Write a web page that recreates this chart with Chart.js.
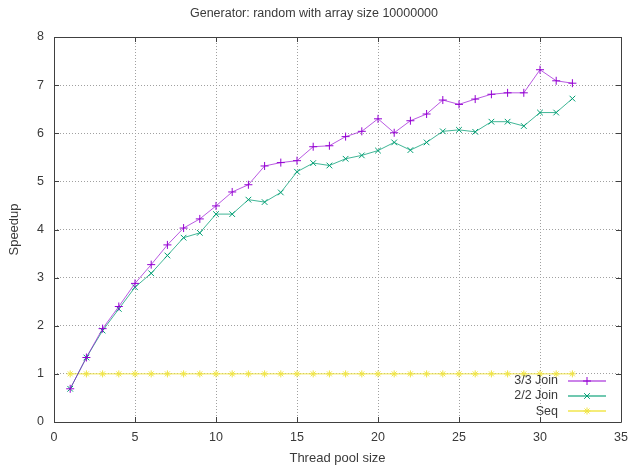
<!DOCTYPE html>
<html>
<head>
<meta charset="utf-8">
<script src="https://cdn.jsdelivr.net/npm/chart.js@4/dist/chart.umd.min.js"></script>
<style>
html,body{margin:0;padding:0;background:#fff;}
#wrap{width:628px;height:467px;}
</style>
</head>
<body>
<div id="wrap"><canvas id="c" width="628" height="467"></canvas></div>
<script>
const threads = [1,2,3,4,5,6,7,8,9,10,11,12,13,14,15,16,17,18,19,20,21,22,23,24,25,26,27,28,29,30,31,32];
const join33 = [0.69,1.34,1.94,2.40,2.88,3.27,3.68,4.03,4.22,4.49,4.78,4.93,5.32,5.39,5.43,5.72,5.74,5.93,6.04,6.30,6.01,6.26,6.40,6.69,6.60,6.71,6.81,6.84,6.84,7.32,7.09,7.04];
const join22 = [0.69,1.34,1.90,2.35,2.80,3.09,3.46,3.83,3.93,4.32,4.32,4.62,4.57,4.77,5.20,5.38,5.33,5.47,5.54,5.64,5.81,5.65,5.81,6.04,6.07,6.03,6.24,6.24,6.15,6.43,6.43,6.72];
const seq = [1,1,1,1,1,1,1,1,1,1,1,1,1,1,1,1,1,1,1,1,1,1,1,1,1,1,1,1,1,1,1,1];
const seriesLabels = ['3/3 Join','2/2 Join','Seq'];
const seriesColors = ['#9400d3','#009e73','#f0e442'];
const seriesLineColors = ['rgba(148,0,211,0.65)','rgba(0,158,115,0.75)','rgba(240,228,66,0.95)'];
const seriesPoints = ['cross','crossRot','star'];
const titleText = 'Generator: random with array size 10000000';
const xTitle = 'Thread pool size';
const yTitle = 'Speedup';

const FONT = 'Liberation Sans, Arial, sans-serif';
const TXT = '#3a3a3a';

function pts(ys){ return threads.map((x,i)=>({x:x,y:ys[i]})); }

const frame = {
  id:'frame',
  afterDatasetsDraw(chart){
    const {ctx, chartArea:a, scales:{x,y}} = chart;
    ctx.save();
    ctx.strokeStyle = '#404040';
    ctx.lineWidth = 1;
    ctx.beginPath();
    ctx.rect(Math.round(a.left)+0.5, Math.round(a.top)+0.5, Math.round(a.right-a.left), Math.round(a.bottom-a.top));
    ctx.stroke();
    const L = 5;
    ctx.beginPath();
    x.ticks.forEach(t=>{
      const px = Math.round(x.getPixelForValue(t.value))+0.5;
      ctx.moveTo(px,a.bottom); ctx.lineTo(px,a.bottom-L);
      ctx.moveTo(px,a.top); ctx.lineTo(px,a.top+L);
    });
    y.ticks.forEach(t=>{
      const py = Math.round(y.getPixelForValue(t.value))+0.5;
      ctx.moveTo(a.left,py); ctx.lineTo(a.left+L,py);
      ctx.moveTo(a.right,py); ctx.lineTo(a.right-L,py);
    });
    ctx.stroke();

    // key (legend) bottom-right inside
    ctx.font = '12.5px ' + FONT;
    ctx.textAlign = 'right';
    ctx.textBaseline = 'middle';
    chart.data.datasets.forEach((ds,i)=>{
      const yy = a.bottom - 41.5 + i*15.3;
      const tx = a.right - 63;
      ctx.fillStyle = TXT;
      ctx.fillText(ds.label, tx, yy);
      const x0 = a.right - 53, x1 = a.right - 15, xm = Math.round((x0+x1)/2);
      ctx.strokeStyle = seriesLineColors[i];
      ctx.lineWidth = 1.5;
      ctx.beginPath();
      ctx.moveTo(x0, Math.round(yy)); ctx.lineTo(x1, Math.round(yy));
      ctx.stroke();
      ctx.strokeStyle = ds.pointBorderColor;
      ctx.lineWidth = 1;
      const r = ds.pointRadius;
      const cy = Math.round(yy);
      ctx.beginPath();
      const ps = ds.pointStyle;
      if(ps==='cross'||ps==='star'){
        ctx.moveTo(xm-r,cy); ctx.lineTo(xm+r,cy);
        ctx.moveTo(xm,cy-r); ctx.lineTo(xm,cy+r);
      }
      if(ps==='crossRot'||ps==='star'){
        const d = r*Math.SQRT1_2;
        ctx.moveTo(xm-d,cy-d); ctx.lineTo(xm+d,cy+d);
        ctx.moveTo(xm-d,cy+d); ctx.lineTo(xm+d,cy-d);
      }
      ctx.stroke();
    });
    ctx.restore();
  }
};

const mkds = (i, ys) => ({
  label: seriesLabels[i],
  data: pts(ys),
  borderColor: seriesLineColors[i],
  backgroundColor: seriesColors[i],
  borderWidth: 1,
  pointStyle: seriesPoints[i],
  pointRadius: i===2 ? 3.5 : 4,
  pointBorderWidth: 1,
  pointBorderColor: seriesColors[i],
  pointHoverRadius: 4,
  tension: 0,
  fill: false
});

new Chart(document.getElementById('c'), {
  type: 'line',
  data: { datasets: [ mkds(0, join33), mkds(1, join22), mkds(2, seq) ] },
  plugins: [frame],
  options: {
    responsive: false,
    animation: false,
    devicePixelRatio: 1,
    layout: { autoPadding: false, padding: { left: 0, right: 0, top: 0, bottom: 0 } },
    plugins: {
      legend: { display: false },
      tooltip: { enabled: false },
      title: {
        display: true,
        text: titleText,
        color: TXT,
        font: { family: FONT, size: 12.5, weight: 'normal', lineHeight: 1.2 },
        padding: { top: 6, bottom: 16 }
      }
    },
    scales: {
      x: {
        type: 'linear',
        min: 0, max: 35,
        afterFit(s){ s.height = 45; s.paddingRight = 7; s.paddingLeft = 0; },
        ticks: { stepSize: 5, color: TXT, padding: 8, maxRotation: 0, font: { family: FONT, size: 12.5 } },
        grid: { color: '#a0a0a0', lineWidth: 1, drawTicks: false },
        border: { display: false, dash: [1,2] },
        title: { display: true, text: xTitle, color: TXT, font: { family: FONT, size: 13 }, padding: { top: 0, bottom: 1 } }
      },
      y: {
        type: 'linear',
        min: 0, max: 8,
        afterFit(s){ s.width = 54; },
        ticks: { stepSize: 1, color: TXT, padding: 10, font: { family: FONT, size: 12.5 } },
        grid: { color: '#a0a0a0', lineWidth: 1, drawTicks: false },
        border: { display: false, dash: [1,2] },
        title: { display: true, text: yTitle, color: TXT, font: { family: FONT, size: 13 }, padding: { top: 7, bottom: 0 } }
      }
    }
  }
});
</script>
</body>
</html>
